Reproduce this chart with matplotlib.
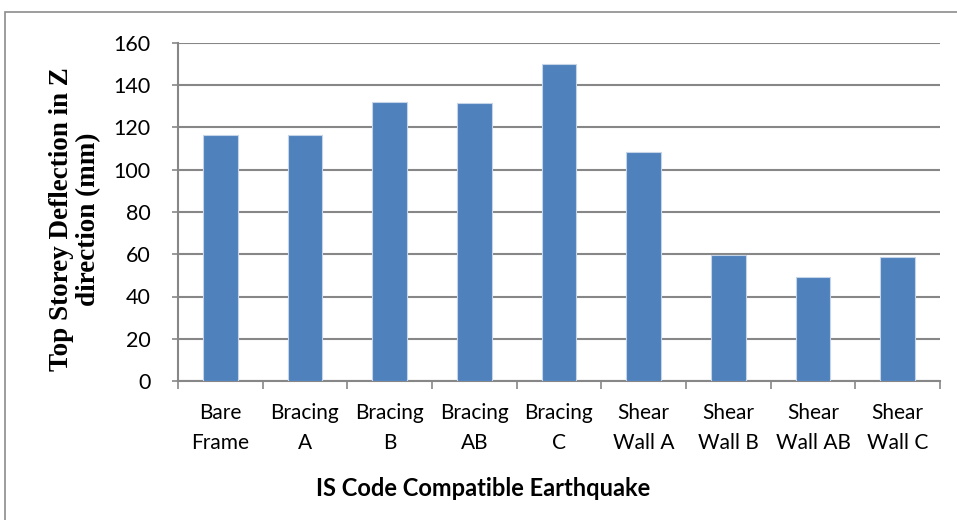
import matplotlib
matplotlib.use('Agg')
import matplotlib.pyplot as plt
from matplotlib.patches import Rectangle
import numpy as np

# Data
# ----
categories = ['Bare\nFrame', 'Bracing\nA', 'Bracing\nB', 'Bracing\nAB', 'Bracing\nC',
              'Shear\nWall A', 'Shear\nWall B', 'Shear\nWall AB', 'Shear\nWall C']
deflection = [116.5, 116.5, 132.2, 131.4, 150.1, 108.4, 59.7, 49.3, 58.9]
yticks = [0, 20, 40, 60, 80, 100, 120, 140, 160]

grid_col = '#878787'
bar_col = '#4F81BD'

# Figure
# ------
fig = plt.figure(figsize=(9.57, 5.20), dpi=100)
ax = fig.add_axes([178/957, 1-381/520, (940-178)/957, (381-43)/520])

# outer chart frame
fig.patches.append(Rectangle((5/957, -0.05), 1.1, 1-12/520+0.05, transform=fig.transFigure,
                             fill=False, edgecolor='#8c8c8c', linewidth=1.2, zorder=0))

x = np.arange(len(categories))
ax.bar(x, deflection, width=0.41, color=bar_col, edgecolor='#c6d4e8', linewidth=0.8, zorder=3)

ax.set_xlim(-0.5, len(categories)-0.5)
ax.set_ylim(0, 160)
ax.set_yticks(yticks)
ax.yaxis.grid(True, color=grid_col, linewidth=1.5, zorder=0)
ax.set_axisbelow(True)

for s in ['top', 'right']:
    ax.spines[s].set_visible(False)
ax.spines['left'].set_color(grid_col)
ax.spines['left'].set_linewidth(1.5)
ax.spines['bottom'].set_color(grid_col)
ax.spines['bottom'].set_linewidth(1.5)

# category ticks between bars
ax.set_xticks(np.arange(-0.5, len(categories)), minor=False)
ax.set_xticklabels([])
ax.set_xticks(x, minor=True)
ax.set_xticklabels(categories, minor=True, fontsize=15, family='Lato', linespacing=1.6)
ax.tick_params(axis='x', which='major', length=6, width=1.2, color=grid_col)
ax.tick_params(axis='x', which='minor', length=0, pad=16)
ax.tick_params(axis='y', length=4.5, width=1.2, color=grid_col, labelsize=15.5, pad=15)
for lb in ax.get_yticklabels():
    lb.set_family('Lato')

fig.text(483/957, 1-489/520, 'IS Code Compatible Earthquake', ha='center', va='center',
         fontsize=17, fontweight='bold', family='Lato')
fig.text(75/957, 1-219/520, 'Top Storey Deflection in Z\ndirection (mm)', ha='center', va='center',
         rotation=90, fontsize=19.5, fontweight='bold', family='Liberation Serif', linespacing=1.12)

fig.savefig('out.png', dpi=100)
